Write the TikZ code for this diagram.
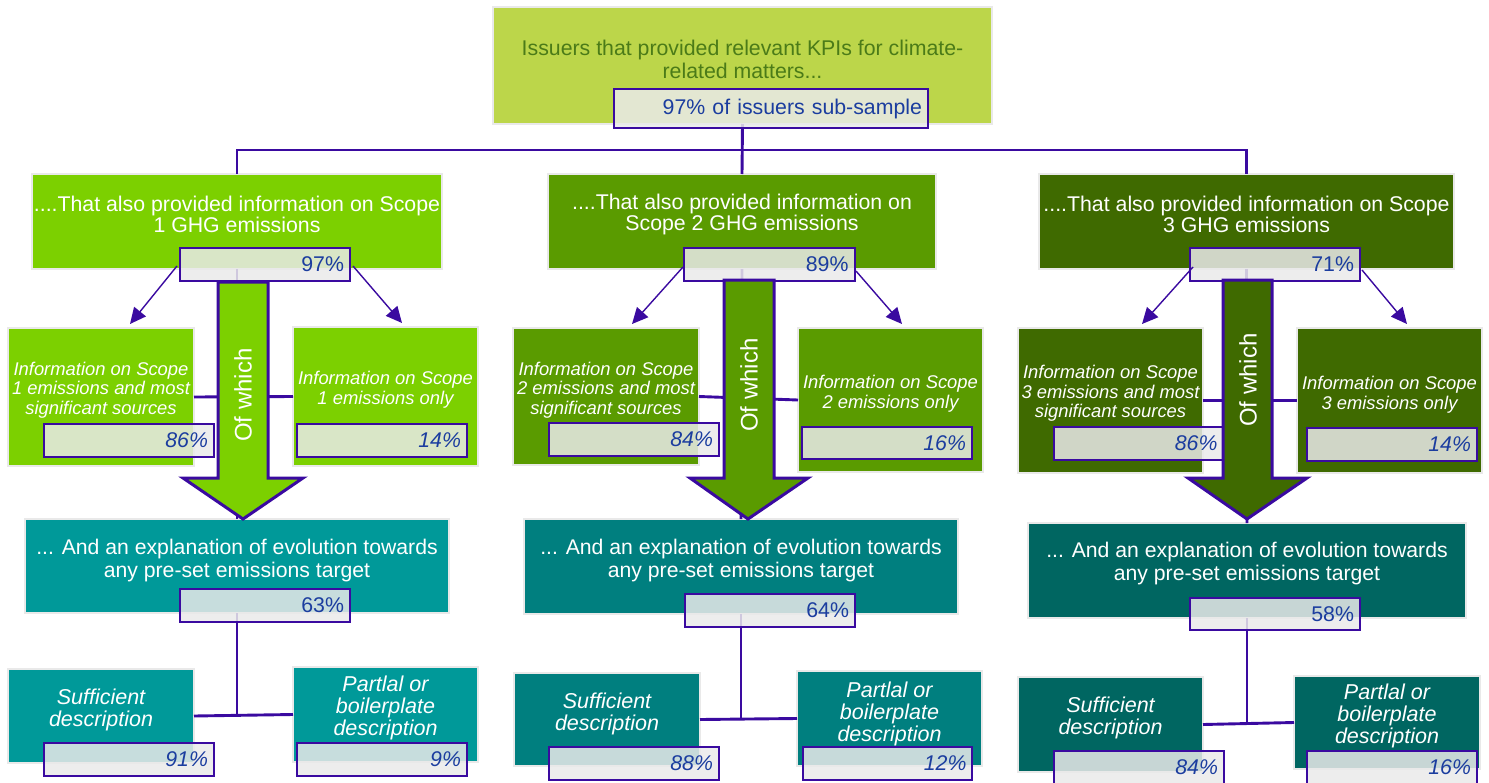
\documentclass[tikz,border=0pt]{standalone}
\usepackage{fontspec}
\setmainfont{Liberation Sans}
\usetikzlibrary{arrows.meta,calc}
\definecolor{haloc}{HTML}{E9E9E9}
\definecolor{topg}{HTML}{BCD64A}
\definecolor{toptxt}{HTML}{4B7B18}
\definecolor{sa}{HTML}{7CD000}
\definecolor{sb}{HTML}{5A9B00}
\definecolor{sc}{HTML}{3F6A00}
\definecolor{ea}{HTML}{009999}
\definecolor{eb}{HTML}{007F7F}
\definecolor{ec}{HTML}{006661}
\definecolor{purp}{HTML}{3A0AA0}
\definecolor{pctfill}{HTML}{EAEAEA}
\definecolor{pcttxt}{HTML}{1B3D9F}
\newcommand\mkbox[7]{\node[#2, minimum width={#5-#3}, minimum height={#6-#4}] (#1) at ({(#3+#5)/2},{(#4+#6)/2}) {#7};}
\begin{document}
\begin{tikzpicture}[x=1pt,y=-1pt,
  halo/.style={draw=haloc, line width=2pt, inner sep=0pt, outer sep=0pt},
  pct/.style={draw=purp, line width=2.9pt, fill=pctfill, fill opacity=0.85, text opacity=1, draw opacity=1,
    inner xsep=5pt, inner ysep=0pt, outer sep=0pt, text=pcttxt, text width=158pt, align=right,
    font=\fontsize{21.3}{21}\selectfont},
  ipct/.style={pct, font=\fontsize{21.3}{21}\selectfont\itshape},
  wt/.style={text=white, align=center, inner sep=0pt, font=\fontsize{21.3}{21}\selectfont},
  ttxt/.style={text=toptxt, align=center, inner sep=0pt, font=\fontsize{21.3}{23}\selectfont},
  swt/.style={text=white, align=center, inner sep=0pt, font=\fontsize{18.4}{19.5}\selectfont\itshape},
  bwt/.style={text=white, align=center, inner sep=0pt, font=\fontsize{21.5}{22}\selectfont\itshape},
  ofw/.style={text=white, rotate=90, inner sep=0pt, font=\fontsize{24}{24}\selectfont},
  conn/.style={draw=purp, line width=2.9pt},
  hubline/.style={draw=purp, line width=2.3pt},
  thinarr/.style={draw=purp, line width=1.4pt, -{Triangle[length=16pt,width=15pt]}},
  bigarr/.style={draw=purp, line width=3pt, line join=miter}
]
\path[use as bounding box] (0,0) rectangle (1489,782);
\clip (0,0) rectangle (1489,782);

% ---------- boxes ----------
\mkbox{T}{halo, fill=topg}{493}{7}{992}{124}{}
\node[ttxt] (Tt) at (742.5,59.5) {Issuers that provided relevant KPIs for climate-\\related matters...};

\mkbox{S1}{halo, fill=sa}{32}{174}{442}{269}{}
\node[wt] (S1t) at (237,214.5) {....That also provided information on Scope\\1 GHG emissions};
\mkbox{S2}{halo, fill=sb}{548}{174}{936}{269}{}
\node[wt] (S2t) at (742,214.5) {....That also provided information on\\Scope 2 GHG emissions};
\mkbox{S3}{halo, fill=sc}{1039}{174}{1454}{269}{}
\node[wt] (S3t) at (1246.5,214.5) {....That also provided information on Scope\\3 GHG emissions};

\mkbox{L1}{halo, fill=sa}{8}{328}{194}{466}{}
\node[swt] (L1t) at (101,390) {Information on Scope\\1 emissions and most\\significant sources};
\mkbox{R1}{halo, fill=sa}{293}{327}{478}{466}{}
\node[swt] (R1t) at (385.5,389.5) {Information on Scope\\1 emissions only};
\mkbox{L2}{halo, fill=sb}{513}{328}{699}{465}{}
\node[swt] (L2t) at (606,390) {Information on Scope\\2 emissions and most\\significant sources};
\mkbox{R2}{halo, fill=sb}{798}{328}{983}{472}{}
\node[swt] (R2t) at (890.5,393.5) {Information on Scope\\2 emissions only};
\mkbox{L3}{halo, fill=sc}{1018}{328}{1203}{473}{}
\node[swt] (L3t) at (1110.5,393.5) {Information on Scope\\3 emissions and most\\significant sources};
\mkbox{R3}{halo, fill=sc}{1297}{328}{1482}{473}{}
\node[swt] (R3t) at (1389.5,394.5) {Information on Scope\\3 emissions only};

\mkbox{E1}{halo, fill=ea}{25}{519}{449}{613}{}
\node[wt, font=\fontsize{21.2}{23}\selectfont] (E1t) at (237,560.5) {... And an explanation of evolution towards\\any pre-set emissions target};
\mkbox{E2}{halo, fill=eb}{524}{519}{958}{614}{}
\node[wt, font=\fontsize{21.2}{23}\selectfont] (E2t) at (741,560.5) {... And an explanation of evolution towards\\any pre-set emissions target};
\mkbox{E3}{halo, fill=ec}{1028}{523}{1466}{618}{}
\node[wt, font=\fontsize{21.2}{23}\selectfont] (E3t) at (1247,564) {... And an explanation of evolution towards\\any pre-set emissions target};

\mkbox{B1}{halo, fill=ea}{8}{669}{194}{763}{}
\node[bwt] (B1t) at (101,709.5) {Sufficient\\description};
\mkbox{C1}{halo, fill=ea}{293}{667}{478}{762}{}
\node[bwt] (C1t) at (385.5,708) {Partlal or\\boilerplate\\description};
\mkbox{B2}{halo, fill=eb}{514}{673}{700}{766}{}
\node[bwt] (B2t) at (607,714) {Sufficient\\description};
\mkbox{C2}{halo, fill=eb}{797}{671}{982}{766}{}
\node[bwt] (C2t) at (889.5,714) {Partlal or\\boilerplate\\description};
\mkbox{B3}{halo, fill=ec}{1018}{677}{1203}{772}{}
\node[bwt] (B3t) at (1110.5,718) {Sufficient\\description};
\mkbox{C3}{halo, fill=ec}{1294}{676}{1480}{769}{}
\node[bwt] (C3t) at (1387,716) {Partlal or\\boilerplate\\description};

% ---------- connectors ----------
\coordinate (hub) at (742,150);
\draw[hubline] (S1.north) |- (hub) -| (S3.north);
\draw[conn] (T.south) -- (S2.north);
\draw[conn] (S1.south) -- (E1.north);
\draw[conn] (S2.south) -- (E2.north);
\draw[conn] (S3.south) -- (E3.north);
\draw[conn] (L1.east) -- (R1.west);
\draw[conn] (L2.east) -- (R2.west);
\draw[conn] (L3.east) -- (R3.west);
\draw[conn] (E1.south) -- (E1.south |- B1.east);
\draw[conn] (B1.east) -- (C1.west);
\draw[conn] (E2.south) -- (E2.south |- B2.east);
\draw[conn] (B2.east) -- (C2.west);
\draw[conn] (E3.south) -- (E3.south |- B3.east);
\draw[conn] (B3.east) -- (C3.west);

% ---------- percentage boxes ----------
\mkbox{TP}{pct, text width=302pt}{614}{89}{928}{128}{97\% of issuers sub-sample}
\mkbox{P1}{pct}{180}{248}{350}{281}{97\%}
\mkbox{P2}{pct}{684}{248}{855}{281}{89\%}
\mkbox{P3}{pct}{1190}{248}{1360}{281}{71\%}
\mkbox{LP1}{ipct}{44}{424}{214}{457}{86\%}
\mkbox{RP1}{ipct}{297}{424}{467}{457}{14\%}
\mkbox{LP2}{ipct}{549}{423}{719}{456}{84\%}
\mkbox{RP2}{ipct}{802}{427}{972}{459}{16\%}
\mkbox{LP3}{ipct}{1054}{427}{1223}{460}{86\%}
\mkbox{RP3}{ipct}{1307}{428}{1477}{461}{14\%}
\mkbox{EP1}{pct}{180}{589}{350}{622}{63\%}
\mkbox{EP2}{pct}{685}{594}{855}{627}{64\%}
\mkbox{EP3}{pct}{1190}{598}{1360}{630}{58\%}
\mkbox{BP1}{ipct}{44}{743}{214}{776}{91\%}
\mkbox{CP1}{ipct}{297}{743}{467}{776}{9\%}
\mkbox{BP2}{ipct}{549}{747}{719}{780}{88\%}
\mkbox{CP2}{ipct}{803}{747}{972}{780}{12\%}
\mkbox{BP3}{ipct}{1054}{751}{1224}{784}{84\%}
\mkbox{CP3}{ipct}{1307}{751}{1477}{784}{16\%}

% ---------- thin arrows ----------
\draw[thinarr] ($(P1.south west)+(-3,-15)$) -- ($(L1.north)+(29,-4)$);
\draw[thinarr] ($(P1.south east)+(3,-15)$) -- ($(R1.north)+(16.5,-4)$);
\draw[thinarr] ($(P2.south west)+(-1,-14)$) -- ($(L2.north)+(26,-4)$);
\draw[thinarr] ($(P2.south east)+(1,-10)$) -- ($(R2.north)+(11.5,-4)$);
\draw[thinarr] ($(P3.south west)+(3,-14)$) -- ($(L3.north)+(31.5,-4)$);
\draw[thinarr] ($(P3.south east)+(2,-11)$) -- ($(R3.north)+(17.5,-4)$);

% ---------- big "Of which" arrows ----------
\draw[bigarr, fill=sa] (218,282) -- (268,282) -- (268,478) -- (303,478) -- (243,519) -- (183,478) -- (218,478) -- cycle;
\node[ofw] (O1) at (243,395) {Of which};
\draw[bigarr, fill=sb] (724,280) -- (774,280) -- (774,478) -- (808,478) -- (748,519) -- (690,478) -- (724,478) -- cycle;
\node[ofw] (O2) at (749,385) {Of which};
\draw[bigarr, fill=sc] (1223,280) -- (1272,280) -- (1272,478) -- (1307,478) -- (1247,519) -- (1188,478) -- (1223,478) -- cycle;
\node[ofw] (O3) at (1248,380) {Of which};
\end{tikzpicture}
\end{document}
